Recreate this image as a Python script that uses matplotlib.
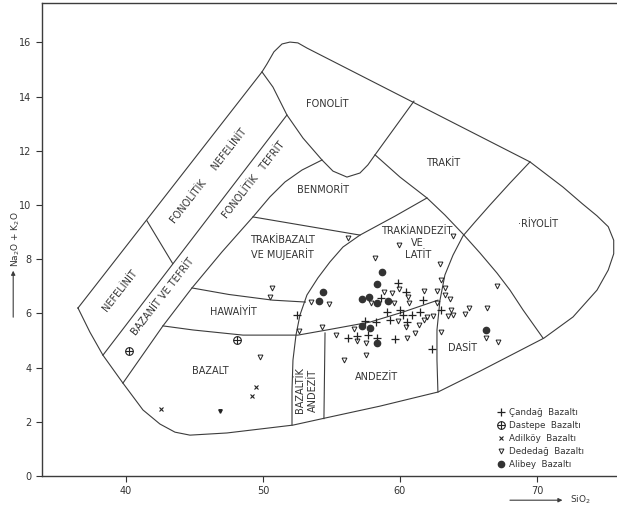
import numpy as np
import matplotlib.pyplot as plt
from matplotlib.lines import Line2D
from matplotlib.legend_handler import HandlerTuple

# --- sample data (SiO2, Na2O+K2O) ---
candag_si = [52.45, 59.88, 60.42, 58.58, 61.70, 59.03, 60.02, 60.24, 60.91, 61.44, 59.27,
             60.49, 58.27, 57.48, 56.86, 56.23, 57.69, 58.32, 59.65, 62.37, 63.0]
candag_alk = [5.94, 7.12, 6.80, 6.56, 6.49, 6.06, 6.11, 5.94, 5.94, 6.06, 5.75,
              5.69, 5.68, 5.73, 5.17, 5.08, 5.20, 5.08, 5.07, 4.70, 6.14]

dastepe_si = [40.24, 48.08]
dastepe_alk = [4.62, 5.02]

adilkoy_si = [42.55, 49.49, 49.22]
adilkoy_alk = [2.47, 3.30, 2.96]

dededag_si = [50.64, 50.51, 49.78, 52.63, 56.20, 59.95, 58.18, 53.48, 54.83, 54.28, 55.33,
              55.93, 57.55, 56.64, 56.88, 57.50, 57.88, 58.83, 59.44, 59.95, 60.56, 59.56,
              60.68, 61.79, 62.68, 63.31, 63.25, 63.65, 62.68, 62.94, 62.96, 63.89, 60.44,
              60.51, 61.07, 61.42, 61.79, 61.99, 62.43, 59.83, 63.01, 63.69, 63.48, 63.89,
              64.71, 65.07, 66.37, 67.08, 66.30, 67.12]
dededag_alk = [6.93, 6.59, 4.38, 5.37, 8.77, 8.51, 8.03, 6.41, 6.35, 5.49, 5.20,
               4.28, 4.46, 5.41, 4.99, 4.90, 6.37, 6.80, 6.76, 6.89, 6.59, 6.37,
               6.37, 6.82, 6.81, 6.93, 6.67, 6.52, 6.37, 7.82, 7.22, 8.85, 5.49,
               5.11, 5.28, 5.56, 5.76, 5.88, 5.90, 5.73, 5.33, 6.13, 5.89, 5.96,
               5.99, 6.19, 6.21, 7.00, 5.09, 4.94]
odd_si = [46.86]
odd_alk = [2.40]

alibey_si = [58.71, 58.30, 57.76, 57.23, 58.34, 59.12, 54.40, 54.09, 57.25, 57.81, 58.30, 66.28]
alibey_alk = [7.54, 7.08, 6.62, 6.52, 6.37, 6.47, 6.80, 6.46, 5.54, 5.47, 4.92, 5.39]

# --- field boundaries of the classification diagram ---
outer_x = [36.50, 37.37, 38.32, 39.78, 41.24, 42.48, 43.58, 44.67, 47.37, 52.19, 54.53,
           58.54, 62.77, 65.84, 70.51, 72.63, 74.38, 75.20, 75.60, 75.60, 75.20, 74.38,
           73.30, 71.90, 69.49, 53.21, 52.55, 51.97, 51.39, 50.80, 50.29, 49.93, 36.50]
outer_y = [6.20, 5.31, 4.46, 3.43, 2.44, 1.92, 1.62, 1.51, 1.59, 1.88, 2.14,
           2.58, 3.10, 3.87, 5.09, 5.87, 6.86, 7.60, 8.20, 8.70, 9.20, 9.60,
           10.05, 10.66, 11.59, 15.79, 15.98, 16.01, 15.94, 15.65, 15.20, 14.91, 6.20]

line2_x = [38.32, 51.75]
line2_y = [4.46, 13.32]

line3_x = [39.78, 42.70, 44.82, 47.01, 49.27, 50.51, 51.61, 52.85, 54.31]
line3_y = [3.43, 5.54, 6.94, 8.27, 9.56, 10.30, 10.85, 11.29, 11.66]

fonolit_x = [49.93, 50.73, 51.75, 52.92, 54.31, 55.11, 56.13, 57.08, 57.66, 58.18, 61.02]
fonolit_y = [14.91, 14.35, 13.32, 12.47, 11.66, 11.25, 11.03, 11.18, 11.48, 11.85, 13.83]

trakit_x = [58.18, 60.0, 61.97, 63.28, 64.60, 65.84, 67.08, 68.03, 68.98, 70.44]
trakit_y = [11.85, 11.03, 10.26, 9.63, 8.93, 8.23, 7.49, 6.86, 6.13, 5.09]

riyolit_x = [69.49, 68.03, 66.57, 65.47, 64.60, 63.87, 63.28, 62.92, 62.70, 62.70, 62.77]
riyolit_y = [11.59, 10.81, 10.0, 9.37, 8.86, 8.15, 7.42, 6.49, 5.39, 4.28, 3.10]

curve_k_x = [61.97, 59.64, 57.08, 55.84, 54.89, 54.01, 53.21, 52.70, 52.41, 52.19, 52.12, 52.12]
curve_k_y = [10.26, 9.59, 8.89, 8.45, 7.90, 7.31, 6.68, 5.94, 5.20, 4.28, 3.17, 1.88]

benmorit_x = [49.27, 57.08]
benmorit_y = [9.56, 8.89]

hawaiyit_up_x = [44.82, 47.5, 50.7, 53.1]
hawaiyit_up_y = [6.94, 6.70, 6.49, 6.42]

hawaiyit_lo_x = [42.70, 44.89, 48.54, 52.55, 54.67, 57.81, 60.22, 62.77]
hawaiyit_lo_y = [5.54, 5.39, 5.20, 5.20, 5.39, 5.68, 6.05, 6.49]

bazand_x = [54.53, 54.45]
bazand_y = [5.28, 2.12]

nefelinit_x = [41.53, 43.40]
nefelinit_y = [9.42, 7.85]

lc = '#3c3c3c'
mc = '#222222'

fig = plt.figure(figsize=(6.17, 5.07), dpi=100)
ax = fig.add_axes([0.068, 0.061, 0.932, 0.933])

for xs, ys in [(outer_x, outer_y), (line2_x, line2_y), (line3_x, line3_y),
               (fonolit_x, fonolit_y), (trakit_x, trakit_y), (riyolit_x, riyolit_y),
               (curve_k_x, curve_k_y), (benmorit_x, benmorit_y),
               (hawaiyit_up_x, hawaiyit_up_y), (hawaiyit_lo_x, hawaiyit_lo_y),
               (bazand_x, bazand_y), (nefelinit_x, nefelinit_y)]:
    ax.plot(xs, ys, color=lc, lw=0.8, solid_joinstyle='round')

# field names
fs = 7
tc = '#333333'
labels = [
    (39.56, 6.86, 'NEFELİNİT', 52),
    (46.06, 11.07, 'FONOLİTİK     NEFELİNİT', 52),
    (42.70, 6.61, 'BAZANİT VE TEFRİT', 52),
    (49.34, 10.92, 'FONOLİTİK   TEFRİT', 52),
    (54.67, 13.73, 'FONOLİT', 0),
    (54.38, 10.55, 'BENMORİT', 0),
    (63.14, 11.55, 'TRAKİT', 0),
    (70.07, 9.30, '·RİYOLİT', 0),
    (51.46, 8.71, 'TRAKİBAZALT', 0),
    (51.39, 8.19, 'VE MUJEARİT', 0),
    (61.24, 9.04, 'TRAKİANDEZİT', 0),
    (61.24, 8.60, 'VE', 0),
    (61.30, 8.15, 'LATİT', 0),
    (47.81, 6.05, 'HAWAİYİT', 0),
    (46.13, 3.87, 'BAZALT', 0),
    (52.70, 3.17, 'BAZALTİK', 90),
    (53.65, 3.17, 'ANDEZİT', 90),
    (58.32, 3.65, 'ANDEZİT', 0),
    (64.60, 4.72, 'DASİT', 0),
]
for x, y, s, r in labels:
    ax.text(x, y, s, fontsize=fs, color=tc, rotation=r, ha='center', va='center',
            rotation_mode='anchor')

# samples
ax.plot(candag_si, candag_alk, '+', color=mc, ms=5.5, mew=0.9, ls='none')
ax.plot(dastepe_si, dastepe_alk, 'o', mfc='none', mec=mc, ms=5.5, mew=0.8, ls='none')
ax.plot(dastepe_si, dastepe_alk, '+', color=mc, ms=5.5, mew=0.8, ls='none')
ax.plot(adilkoy_si, adilkoy_alk, 'x', color=mc, ms=3.2, mew=0.8, ls='none')
ax.plot(dededag_si, dededag_alk, 'v', mfc='none', mec=mc, ms=3.5, mew=0.7, ls='none')
ax.plot(odd_si, odd_alk, 'v', color=mc, ms=2.5, ls='none')
ax.plot(alibey_si, alibey_alk, 'o', color='#333333', ms=4.5, ls='none')

handles = [
    Line2D([], [], ls='none', marker='+', color=mc, ms=5.5, mew=0.9),
    (Line2D([], [], ls='none', marker='o', mfc='none', mec=mc, ms=5.5, mew=0.8),
     Line2D([], [], ls='none', marker='+', color=mc, ms=5.5, mew=0.8)),
    Line2D([], [], ls='none', marker='x', color=mc, ms=3.2, mew=0.8),
    Line2D([], [], ls='none', marker='v', mfc='none', mec=mc, ms=3.5, mew=0.7),
    Line2D([], [], ls='none', marker='o', color='#333333', ms=4.5),
]
names = ['Çandağ  Bazaltı', 'Dastepe  Bazaltı', 'Adilköy  Bazaltı',
         'Dededağ  Bazaltı', 'Alibey  Bazaltı']
ax.legend(handles, names, loc='upper left', bbox_to_anchor=(0.775, 0.16), frameon=False,
          fontsize=6.3, labelspacing=0.45, handletextpad=0.4, handlelength=1.2,
          labelcolor=tc, handler_map={tuple: HandlerTuple(ndivide=1, pad=0)})

ax.set_xlim(33.87, 75.84)
ax.set_ylim(0, 17.45)
ax.set_xticks([40, 50, 60, 70])
ax.set_yticks(range(0, 17, 2))
ax.tick_params(direction='out', length=4, width=0.8, labelsize=7, colors=tc)
for s in ['left', 'bottom', 'top']:
    ax.spines[s].set_color(lc)
    ax.spines[s].set_linewidth(1.0)
ax.spines['right'].set_visible(False)

# axis titles with arrows
ax.text(-0.045, 0.50, 'Na$_2$O + K$_2$O', transform=ax.transAxes, rotation=90,
        fontsize=6.5, color=tc, ha='center', va='center')
ax.annotate('', xy=(-0.05, 0.44), xytext=(-0.05, 0.33), xycoords='axes fraction',
            arrowprops=dict(arrowstyle='-|>', color=lc, lw=0.8, mutation_scale=6))
ax.annotate('', xy=(0.91, -0.051), xytext=(0.809, -0.051), xycoords='axes fraction',
            arrowprops=dict(arrowstyle='-|>', color=lc, lw=0.8, mutation_scale=6),
            annotation_clip=False)
ax.text(0.918, -0.051, 'SiO$_2$', transform=ax.transAxes, fontsize=6.5, color=tc,
        ha='left', va='center')

fig.savefig('out.png', dpi=100)
